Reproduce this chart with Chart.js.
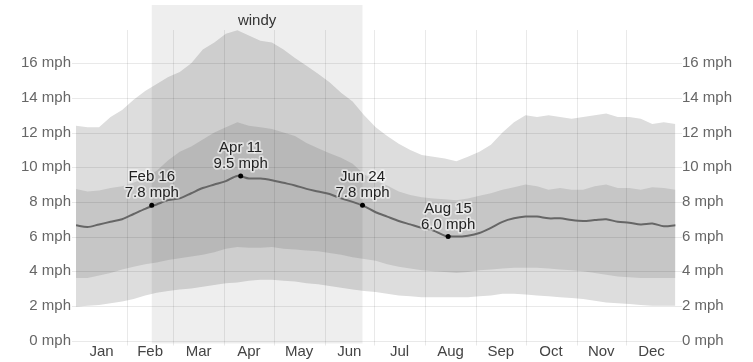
<!DOCTYPE html>
<html>
<head>
<meta charset="utf-8">
<script src="https://cdn.jsdelivr.net/npm/chart.js@4.4.1/dist/chart.umd.min.js"></script>
<style>
  html, body { margin: 0; padding: 0; background: #fff; }
  #wrap { width: 753px; height: 362px; position: relative; }
</style>
</head>
<body>
<div id="wrap"><canvas id="c" width="753" height="362"></canvas></div>
<script>
// ---- Data (day of year, mph) ----
const days = [0,7,14,21,28,35,42,49,56,63,70,77,84,91,98,105,112,119,126,133,140,147,154,161,168,175,182,189,196,203,210,217,224,231,238,245,252,259,266,273,280,287,294,301,308,315,322,329,336,343,350,357,364];
const p90 = [12.4,12.3,12.3,12.9,13.3,13.9,14.4,14.8,15.2,15.5,16.0,16.8,17.2,17.7,17.9,17.6,17.3,17.2,16.8,16.3,15.85,15.4,14.9,14.3,13.8,13.0,12.3,11.8,11.35,11.0,10.7,10.6,10.5,10.35,10.6,10.9,11.3,12.0,12.6,13.0,12.9,13.0,12.9,12.8,12.9,13.0,13.1,12.9,12.9,12.8,12.5,12.6,12.5];
const p75 = [8.75,8.6,8.65,8.8,8.9,9.1,9.4,9.8,10.4,10.9,11.2,11.6,12.0,12.3,12.6,12.4,12.3,12.2,12.0,11.8,11.4,11.1,10.8,10.55,10.2,9.6,9.2,8.95,8.6,8.4,8.27,8.2,8.15,8.1,8.2,8.35,8.5,8.7,8.85,9.0,8.9,8.7,8.8,8.7,8.7,8.9,9.0,8.8,8.8,8.7,8.85,8.8,8.7];
const avg = [6.65,6.55,6.7,6.85,7.0,7.3,7.6,7.85,8.1,8.2,8.5,8.8,9.0,9.2,9.5,9.35,9.35,9.25,9.1,8.95,8.75,8.6,8.45,8.2,8.0,7.75,7.4,7.15,6.9,6.7,6.5,6.35,6.05,6.0,6.05,6.2,6.5,6.85,7.05,7.15,7.15,7.05,7.05,6.95,6.9,6.95,7.0,6.85,6.8,6.7,6.75,6.6,6.65];
const p25 = [3.6,3.6,3.75,3.9,4.1,4.25,4.4,4.5,4.65,4.75,4.85,4.95,5.1,5.3,5.4,5.35,5.35,5.4,5.3,5.25,5.2,5.15,5.05,4.95,4.8,4.7,4.6,4.4,4.25,4.15,4.05,4.0,3.95,3.9,3.95,4.05,4.1,4.15,4.2,4.2,4.2,4.15,4.1,4.05,4.0,3.9,3.8,3.7,3.65,3.6,3.6,3.6,3.6];
const p10 = [1.95,2.0,2.05,2.15,2.25,2.4,2.6,2.75,2.85,2.95,3.0,3.1,3.2,3.3,3.35,3.45,3.5,3.5,3.45,3.4,3.3,3.25,3.15,3.05,2.95,2.85,2.8,2.7,2.6,2.55,2.5,2.5,2.5,2.5,2.5,2.55,2.6,2.7,2.7,2.65,2.6,2.55,2.5,2.45,2.4,2.3,2.2,2.15,2.1,2.05,2.0,2.0,2.0];

const noteDays = [46, 100, 174, 226];
const noteValues = [7.8, 9.5, 7.8, 6.0];
const noteDates = ["Feb 16", "Apr 11", "Jun 24", "Aug 15"];

const months = ["Jan","Feb","Mar","Apr","May","Jun","Jul","Aug","Sep","Oct","Nov","Dec"];
const monthStarts = [0,31,59,90,120,151,181,212,243,273,304,334,365];
const yTicks = [0,2,4,6,8,10,12,14,16];
const windyStart = 46, windyEnd = 174, windyLabel = "windy";

// ---- helpers ----
const pts = (arr) => days.map((d, i) => ({ x: d, y: arr[i] }));
const FONT = "'Liberation Sans', Arial, sans-serif";

const bgPlugin = {
  id: 'overlay',
  afterDatasetDraw(chart, args) {
    if (args.index !== 3) return; // after inner band
    const { ctx, chartArea } = chart;
    const xs = chart.scales.x, ys = chart.scales.y;
    ctx.save();
    // windy band
    const x0 = xs.getPixelForValue(windyStart), x1 = xs.getPixelForValue(windyEnd);
    ctx.fillStyle = 'rgba(0,0,0,0.068)';
    ctx.fillRect(x0, 5, x1 - x0, chartArea.bottom + 3 - 5);
    // grid lines
    ctx.strokeStyle = 'rgba(0,0,0,0.085)';
    ctx.lineWidth = 1;
    ctx.beginPath();
    for (let i = 1; i < monthStarts.length - 1; i++) {
      const x = Math.round(xs.getPixelForValue(monthStarts[i])) + 0.5;
      ctx.moveTo(x, 30); ctx.lineTo(x, chartArea.bottom + 5);
    }
    yTicks.forEach(v => {
      const y = Math.round(ys.getPixelForValue(v)) + 0.5;
      ctx.moveTo(chartArea.left - 4, y); ctx.lineTo(chartArea.right + 5, y);
    });
    ctx.stroke();
    // windy label
    ctx.font = '15px ' + FONT;
    ctx.fillStyle = '#333';
    ctx.textAlign = 'center';
    ctx.textBaseline = 'alphabetic';
    ctx.fillText(windyLabel, (x0 + x1) / 2, 25);
    ctx.restore();
  },
  afterDatasetsDraw(chart) {
    const { ctx } = chart;
    const xs = chart.scales.x, ys = chart.scales.y;
    ctx.save();
    ctx.font = '15px ' + FONT;
    ctx.textAlign = 'center';
    ctx.textBaseline = 'alphabetic';
    ctx.lineJoin = 'round';
    noteDays.forEach((d, i) => {
      const x = xs.getPixelForValue(d), y = ys.getPixelForValue(noteValues[i]);
      const l1 = noteDates[i], l2 = noteValues[i].toFixed(1) + ' mph';
      ctx.strokeStyle = 'rgba(255,255,255,0.55)';
      ctx.lineWidth = 3.5;
      ctx.strokeText(l1, x, y - 24);
      ctx.strokeText(l2, x, y - 8);
      ctx.fillStyle = '#222';
      ctx.fillText(l1, x, y - 24);
      ctx.fillText(l2, x, y - 8);
    });
    ctx.restore();
  }
};

const yAxis = (pos) => ({
  position: pos,
  min: 0, max: 18,
  grid: { display: false, drawTicks: false },
  border: { display: false },
  afterBuildTicks: (s) => { s.ticks = yTicks.map(v => ({ value: v })); },
  afterFit: (s) => { s.width = 76; },
  ticks: {
    padding: 5,
    color: '#666',
    font: { family: FONT, size: 15 },
    callback: (v) => v + ' mph'
  }
});

new Chart(document.getElementById('c'), {
  type: 'line',
  data: {
    datasets: [
      { data: pts(p10), borderWidth: 0, pointRadius: 0, fill: false, order: 6 },
      { data: pts(p90), borderWidth: 0, pointRadius: 0, fill: 0, backgroundColor: '#dddddd', order: 5 },
      { data: pts(p25), borderWidth: 0, pointRadius: 0, fill: false, order: 6 },
      { data: pts(p75), borderWidth: 0, pointRadius: 0, fill: 2, backgroundColor: '#c6c6c6', order: 4 },
      { data: pts(avg), borderColor: '#666', borderWidth: 2, pointRadius: 0, fill: false, tension: 0.3, order: 2 },
      { data: noteDays.map((d, i) => ({ x: d, y: noteValues[i] })), showLine: false, pointRadius: 2.5, pointBackgroundColor: '#000', pointBorderWidth: 0, order: 1 }
    ]
  },
  options: {
    responsive: false,
    animation: false,
    events: [],
    layout: { padding: { top: 28.6, left: 0, right: 0, bottom: 0 } },
    plugins: { legend: { display: false }, tooltip: { enabled: false } },
    scales: {
      x: {
        type: 'linear', min: 0, max: 365,
        grid: { display: false, drawTicks: false },
        border: { display: false },
        afterBuildTicks: (s) => { s.ticks = months.map((m, i) => ({ value: (monthStarts[i] + monthStarts[i + 1]) / 2 })); },
        afterFit: (s) => { s.height = 21.5; },
        ticks: {
          autoSkip: false, maxRotation: 0, padding: 2,
          color: '#444',
          font: { family: FONT, size: 15 },
          callback: (v, i) => months[i]
        }
      },
      y: yAxis('left'),
      y2: yAxis('right')
    }
  },
  plugins: [bgPlugin]
});
</script>
</body>
</html>
